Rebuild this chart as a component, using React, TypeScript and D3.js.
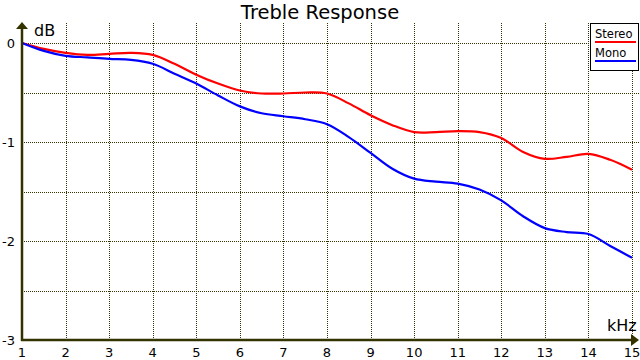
import { useEffect, useRef } from "react";
import * as d3 from "d3";

const freqs = [1, 1.5, 2, 2.5, 3, 3.5, 4, 4.5, 5, 5.5, 6, 6.5, 7, 7.5, 8, 8.5, 9, 9.5, 10, 10.5, 11, 11.5, 12, 12.5, 13, 13.5, 14, 14.5, 15];
const stereo = [0, -0.06, -0.1, -0.12, -0.11, -0.1, -0.12, -0.21, -0.32, -0.41, -0.48, -0.51, -0.51, -0.5, -0.51, -0.61, -0.73, -0.83, -0.9, -0.9, -0.89, -0.9, -0.96, -1.1, -1.17, -1.15, -1.12, -1.18, -1.28];
const mono = [0, -0.08, -0.13, -0.145, -0.16, -0.17, -0.21, -0.31, -0.41, -0.53, -0.64, -0.71, -0.74, -0.77, -0.82, -0.95, -1.11, -1.27, -1.37, -1.4, -1.42, -1.48, -1.59, -1.75, -1.87, -1.91, -1.93, -2.05, -2.17];
const xTicks = [1, 2, 3, 4, 5, 6, 7, 8, 9, 10, 11, 12, 13, 14, 15];
const yTicks = [0, -1, -2, -3];
const yGrid = [0, -0.5, -1, -1.5, -2, -2.5];
const seriesNames = ["Stereo", "Mono"];
const seriesColors = ["#ff0000", "#0000ff"];

function Chart() {
  const ref = useRef(null);

  useEffect(() => {
    const svg = d3.select(ref.current);
    svg.selectAll("*").remove();

    const width = 640;
    const height = 360;
    const axisColor = "#333300";
    const font = "DejaVu Sans, Verdana, sans-serif";

    const x = d3.scaleLinear().domain([1, 15]).range([22, 632]);
    const y = d3.scaleLinear().domain([-3, 0]).range([340, 43]);

    svg.append("rect").attr("width", width).attr("height", height).attr("fill", "#ffffff");

    // Grid
    const grid = svg.append("g").attr("stroke", axisColor).attr("stroke-width", 1).attr("stroke-dasharray", "1,1");
    grid
      .selectAll("line.v")
      .data(xTicks.slice(1))
      .enter()
      .append("line")
      .attr("x1", (d) => Math.round(x(d)) + 0.5)
      .attr("x2", (d) => Math.round(x(d)) + 0.5)
      .attr("y1", 23)
      .attr("y2", 340);
    grid
      .selectAll("line.h")
      .data(yGrid)
      .enter()
      .append("line")
      .attr("x1", 22)
      .attr("x2", 640)
      .attr("y1", (d) => Math.round(y(d)) + 0.5)
      .attr("y2", (d) => Math.round(y(d)) + 0.5);

    // Lines
    const line = d3
      .line<number>()
      .x((d, i) => x(freqs[i]))
      .y((d) => y(d))
      .curve(d3.curveCatmullRom.alpha(0.5));

    [stereo, mono].forEach((vals, i) => {
      svg
        .append("path")
        .datum(vals)
        .attr("fill", "none")
        .attr("stroke", seriesColors[i])
        .attr("stroke-width", 2.2)
        .attr("d", line);
    });

    // Axes
    svg.append("line").attr("x1", 22).attr("x2", 22).attr("y1", 341).attr("y2", 28)
      .attr("stroke", axisColor).attr("stroke-width", 2.5);
    svg.append("line").attr("x1", 21).attr("x2", 633).attr("y1", 340).attr("y2", 340)
      .attr("stroke", axisColor).attr("stroke-width", 2.5);
    svg.append("path").attr("d", "M22,22 L16,29 L28,29 Z").attr("fill", axisColor);
    svg.append("path").attr("d", "M639,340 L631,334 L631,346 Z").attr("fill", axisColor);

    // Tick labels
    svg
      .append("g")
      .selectAll("text")
      .data(xTicks)
      .enter()
      .append("text")
      .attr("x", (d) => x(d))
      .attr("y", 357)
      .attr("text-anchor", "middle")
      .attr("font-family", font)
      .attr("font-size", 13)
      .attr("fill", "#000")
      .text((d) => d);

    svg
      .append("g")
      .selectAll("text")
      .data(yTicks)
      .enter()
      .append("text")
      .attr("x", 15)
      .attr("y", (d) => y(d) + 5)
      .attr("text-anchor", "end")
      .attr("font-family", font)
      .attr("font-size", 13)
      .attr("fill", "#000")
      .text((d) => (d === 0 ? "0" : "-" + Math.abs(d)));

    // Axis labels and title
    svg.append("text").attr("x", 34).attr("y", 36).attr("font-family", font).attr("font-size", 16)
      .attr("fill", "#000").text("dB");
    svg.append("text").attr("x", 607).attr("y", 331).attr("font-family", font).attr("font-size", 16)
      .attr("fill", "#000").text("kHz");
    svg.append("text").attr("x", 320).attr("y", 19).attr("text-anchor", "middle").attr("font-family", font)
      .attr("font-size", 19.5).attr("fill", "#000").text("Treble Response");

    // Legend
    const legend = svg.append("g");
    legend.append("rect").attr("x", 590.5).attr("y", 23.5).attr("width", 48).attr("height", 47)
      .attr("fill", "#fff").attr("stroke", "#000").attr("stroke-width", 1);
    seriesNames.forEach((name, i) => {
      legend.append("text").attr("x", 595).attr("y", 38 + i * 19).attr("font-family", font)
        .attr("font-size", 11.5).attr("fill", "#000").text(name);
      legend.append("line").attr("x1", 595).attr("x2", 636).attr("y1", 42 + i * 19).attr("y2", 42 + i * 19)
        .attr("stroke", seriesColors[i]).attr("stroke-width", 2);
    });

    return () => {
      svg.selectAll("*").remove();
    };
  }, []);

  return (
    <svg
      ref={ref}
      width={640}
      height={360}
      style={{ position: "absolute", left: 0, top: 0 }}
    />
  );
}

export default function App() {
  return <Chart />;
}
